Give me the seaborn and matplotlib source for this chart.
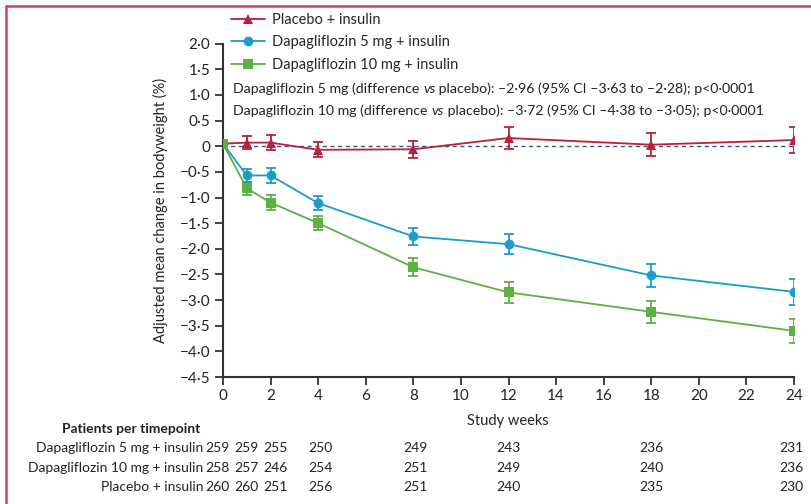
import pandas as pd
import numpy as np
import matplotlib.pyplot as plt
import matplotlib.transforms as mtransforms
from matplotlib.lines import Line2D
import seaborn as sns

sns.set_style('white')
plt.rcParams['font.family'] = ['Lato', 'DejaVu Sans']

weeks = [0, 1, 2, 4, 8, 12, 18, 24]
placebo = [0.05, 0.07, 0.07, -0.07, -0.06, 0.16, 0.03, 0.12]
placebo_err = [0, 0.13, 0.15, 0.15, 0.17, 0.21, 0.22, 0.25]
dapa5 = [0.05, -0.57, -0.57, -1.11, -1.76, -1.91, -2.52, -2.84]
dapa5_err = [0, 0.13, 0.14, 0.14, 0.17, 0.20, 0.22, 0.25]
dapa10 = [0.05, -0.82, -1.10, -1.50, -2.36, -2.85, -3.23, -3.60]
dapa10_err = [0, 0.13, 0.14, 0.14, 0.18, 0.20, 0.22, 0.24]

groups = ['Placebo + insulin', 'Dapagliflozin 5 mg + insulin', 'Dapagliflozin 10 mg + insulin']
colors = ['#b8203c', '#1b9cc9', '#5db041']
markers = ['^', 'o', 's']

n_dapa5 = [259, 259, 255, 250, 249, 243, 236, 231]
n_dapa10 = [258, 257, 246, 254, 251, 249, 240, 236]
n_placebo = [260, 260, 251, 256, 251, 240, 235, 230]

yticks = [2.0, 1.5, 1.0, 0.5, 0, -0.5, -1.0, -1.5, -2.0, -2.5, -3.0, -3.5, -4.0, -4.5]

df = pd.DataFrame({
    'week': weeks * 3,
    'change': placebo + dapa5 + dapa10,
    'err': placebo_err + dapa5_err + dapa10_err,
    'group': [groups[0]] * 8 + [groups[1]] * 8 + [groups[2]] * 8,
})

FS = 10
TXT = '#222222'

fig = plt.figure(figsize=(8.11, 5.04), dpi=100)
ax = fig.add_axes([223 / 811, 1 - 377 / 504, (794 - 223) / 811, (377 - 18) / 504])

ax.plot([0, 24], [0, 0], ls=(0, (3, 2.5)), color='#3b5872', lw=1, zorder=1)

for g, c, z in zip(groups[::-1], colors[::-1], [2, 3, 4]):
    d = df[(df['group'] == g) & (df['err'] > 0)]
    ax.errorbar(d['week'], d['change'], yerr=d['err'], fmt='none',
                ecolor=c, elinewidth=1.3, capsize=3.5, capthick=1.3, zorder=z)

sns.lineplot(data=df, x='week', y='change', hue='group', style='group',
             hue_order=groups, style_order=groups, palette=colors,
             markers=dict(zip(groups, markers)), dashes=False,
             markersize=7, markeredgewidth=0, lw=1.3, ax=ax, legend=False, zorder=5)

ax.set_xlim(0, 24)
ax.set_ylim(-4.5, 2.5)
ax.set_xticks(range(0, 25, 2))
ax.set_yticks(yticks)
ax.set_yticklabels(['0' if v == 0 else f'{v:.1f}'.replace('.', '·').replace('-', '−') for v in yticks])
ax.tick_params(axis='both', direction='out', length=6, width=1.3, color='#333333',
               labelsize=11, labelcolor=TXT, left=True, bottom=True, pad=3)
for s in ['top', 'right']:
    ax.spines[s].set_visible(False)
for s in ['left', 'bottom']:
    ax.spines[s].set_linewidth(1.5)
    ax.spines[s].set_color('#333333')
ax.spines['left'].set_bounds(-4.5, 2.0)
ax.set_xlabel('')
ax.set_ylabel('')

fig.text(508 / 811, 1 - 421 / 504, 'Study weeks', ha='center', va='center', fontsize=FS + 0.5, color=TXT)
fig.text(160 / 811, 1 - 210 / 504, 'Adjusted mean change in bodyweight (%)', rotation=90,
         ha='center', va='center', fontsize=FS + 0.5, color=TXT)

handles = [Line2D([], [], color=c, marker=m, markersize=7, lw=1.3, markeredgewidth=0)
           for c, m in zip(colors, markers)]
fig.legend(handles, groups, loc='upper left', bbox_to_anchor=(231 / 811, 1 - 13 / 504),
           frameon=False, fontsize=FS + 0.5, handlelength=2.3, handletextpad=0.5,
           labelspacing=0.58, borderpad=0, borderaxespad=0)

lines = [('Dapagliflozin 5 mg (difference ', ' placebo): –2·96 (95% CI –3·63 to –2·28); p<0·0001', 89),
         ('Dapagliflozin 10 mg (difference ', ' placebo): –3·72 (95% CI –4·38 to –3·05); p<0·0001', 111)]
for a, b, ypx in lines:
    t1 = fig.text(233 / 811, 1 - ypx / 504, a, ha='left', va='center', fontsize=FS + 0.2, color=TXT)
    t2 = ax.annotate('vs', xy=(1, 0), xycoords=t1, ha='left', va='bottom',
                     fontsize=FS + 0.2, style='italic', color=TXT)
    ax.annotate(b, xy=(1, 0), xycoords=t2, ha='left', va='bottom', fontsize=FS + 0.2, color=TXT)

# patients per timepoint table
fig.text(200 / 811, 1 - 429 / 504, 'Patients per timepoint', ha='right', va='center',
         fontsize=FS, fontweight='bold', color=TXT)
trans = mtransforms.blended_transform_factory(ax.transData, fig.transFigure)
count_x = [-0.25, 1.0, 2.2, 4.1, 8.1, 12.0, 18.0, 23.9]
rows = [('Dapagliflozin 5 mg + insulin', n_dapa5, 448),
        ('Dapagliflozin 10 mg + insulin', n_dapa10, 468),
        ('Placebo + insulin', n_placebo, 487)]
for label, counts, ypx in rows:
    fig.text(203 / 811, 1 - ypx / 504, label, ha='right', va='center', fontsize=FS, color=TXT)
    for x, n in zip(count_x, counts):
        ax.text(x, 1 - ypx / 504, str(n), transform=trans, ha='center', va='center',
                fontsize=FS, color=TXT)

# red frame
fig.add_artist(Line2D([6 / 811, 1], [1 - 6 / 504, 1 - 6 / 504], transform=fig.transFigure,
                      color='#d43d55', lw=1.8))
fig.add_artist(Line2D([6 / 811, 6 / 811], [0, 1 - 6 / 504], transform=fig.transFigure,
                      color='#d43d55', lw=1.8))

fig.savefig('out.png', dpi=100)
